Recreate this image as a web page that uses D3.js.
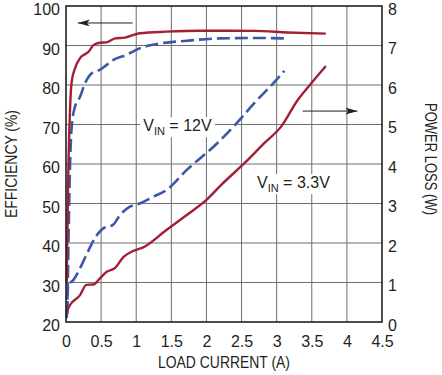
<!DOCTYPE html>
<html lang="en">
<head>
<meta charset="utf-8">
<title>Efficiency and Power Loss vs Load Current</title>
<script src="https://cdn.jsdelivr.net/npm/d3@7"></script>
<style>
  body { margin: 0; background: #fff; }
  text { font-family: "Liberation Sans Narrow", "Liberation Sans", Arial, sans-serif; fill: #231f20; }
</style>
</head>
<body>
<script>
// load current (A) / efficiency (%) / power loss (W)
var eff33 = [
  [0.01, 30], [0.03, 55], [0.057, 73.7], [0.081, 80.8], [0.128, 84.2], [0.2, 86.8], [0.27, 87.8],
  [0.32, 88.4], [0.39, 90.1], [0.48, 90.7], [0.58, 90.8], [0.7, 91.8], [0.84, 92.0],
  [1.05, 93.1], [1.43, 93.5], [1.91, 93.75], [2.21, 93.75], [2.68, 93.7], [3.16, 93.3], [3.7, 93.0]
];
var eff12 = [
  [0.02, 22], [0.04, 45], [0.057, 59.3], [0.081, 69.4], [0.128, 74.5], [0.2, 77], [0.27, 80.4],
  [0.366, 83], [0.48, 83.8], [0.58, 85.1], [0.67, 86.3], [0.86, 87.6], [1.05, 89.3],
  [1.34, 90.5], [1.72, 91.2], [2.19, 91.8], [2.68, 91.9], [3.11, 91.8]
];
var loss12 = [
  [0.01, 0.1], [0.033, 0.94], [0.104, 1.06], [0.2, 1.36], [0.29, 1.7], [0.44, 2.2], [0.53, 2.37],
  [0.67, 2.46], [0.77, 2.71], [0.91, 2.92], [1.05, 3.0], [1.24, 3.17], [1.43, 3.34],
  [1.72, 3.85], [2.15, 4.52], [2.45, 5.07], [2.68, 5.54], [2.97, 6.08], [3.11, 6.36]
];
var loss33 = [
  [0.01, 0.26], [0.057, 0.43], [0.2, 0.68], [0.29, 0.94], [0.39, 0.95], [0.48, 1.1], [0.58, 1.27],
  [0.7, 1.37], [0.82, 1.65], [0.96, 1.8], [1.1, 1.89], [1.43, 2.33], [1.72, 2.71],
  [2.0, 3.09], [2.21, 3.47], [2.54, 4.02], [2.82, 4.52], [3.06, 4.94], [3.3, 5.62],
  [3.49, 6.04], [3.7, 6.48]
];
var xTicks = [0, 0.5, 1, 1.5, 2, 2.5, 3, 3.5, 4, 4.5];
var effTicks = [20, 30, 40, 50, 60, 70, 80, 90, 100];
var lossTicks = [0, 1, 2, 3, 4, 5, 6, 7, 8];

var w = 442, h = 375;
var margin = {top: 6, right: 60, bottom: 53, left: 66};
var red = "#a31f34", blue = "#3b58a8";

var svg = d3.select("body").append("svg")
  .attr("width", w)
  .attr("height", h);

var iw = w - margin.left - margin.right;
var ih = h - margin.top - margin.bottom;

var x = d3.scaleLinear().domain([0, 4.5]).range([0, iw]);
var yEff = d3.scaleLinear().domain([20, 100]).range([ih, 0]);
var yLoss = d3.scaleLinear().domain([0, 8]).range([ih, 0]);

var g = svg.append("g")
  .attr("transform", "translate(" + margin.left + "," + margin.top + ")");

// grid
g.selectAll(".vgrid").data(xTicks.slice(1, -1)).enter().append("line")
  .attr("x1", function(d) { return x(d); }).attr("x2", function(d) { return x(d); })
  .attr("y1", 0).attr("y2", ih)
  .attr("stroke", "#6d6e71").attr("stroke-width", 1);
g.selectAll(".hgrid").data(effTicks.slice(1, -1)).enter().append("line")
  .attr("x1", 0).attr("x2", iw)
  .attr("y1", function(d) { return yEff(d); }).attr("y2", function(d) { return yEff(d); })
  .attr("stroke", "#6d6e71").attr("stroke-width", 1);

// axes (tick labels only, the frame is drawn separately)
function styleAxis(sel) {
  sel.select(".domain").remove();
  sel.selectAll(".tick line").remove();
  sel.selectAll("text").style("font-size", "16px").attr("fill", "#231f20");
}
g.append("g").attr("transform", "translate(0," + ih + ")")
  .call(d3.axisBottom(x).tickValues(xTicks).tickFormat(d3.format("")).tickPadding(8))
  .call(styleAxis);
g.append("g")
  .call(d3.axisLeft(yEff).tickValues(effTicks).tickPadding(0))
  .call(styleAxis)
  .selectAll("text").attr("dy", "0.55em");
g.append("g").attr("transform", "translate(" + iw + ",0)")
  .call(d3.axisRight(yLoss).tickValues(lossTicks).tickPadding(0))
  .call(styleAxis)
  .selectAll("text").attr("dy", "0.5em");

// V_IN labels with white boxes
function vinLabel(px, py, val) {
  var lg = g.append("g");
  var t = lg.append("text").attr("x", px).attr("y", py).style("font-size", "16px");
  t.append("tspan").text("V");
  t.append("tspan").attr("dy", 4).style("font-size", "11px").text("IN");
  t.append("tspan").attr("dy", -4).text(" = " + val);
  var bb = t.node().getBBox();
  lg.insert("rect", "text")
    .attr("x", bb.x - 3).attr("y", bb.y)
    .attr("width", bb.width + 6).attr("height", bb.height)
    .attr("fill", "#fff");
}
vinLabel(x(1.1), yEff(68.3), "12V");
vinLabel(x(2.72), yEff(53.9), "3.3V");

// arrows
svg.append("defs").append("marker")
  .attr("id", "ah").attr("viewBox", "0 0 12 7").attr("refX", 12).attr("refY", 3.5)
  .attr("markerWidth", 12).attr("markerHeight", 7).attr("markerUnits", "userSpaceOnUse")
  .attr("orient", "auto")
  .append("path").attr("d", "M0,0 L12,3.5 L0,7 L3,3.5 z").attr("fill", "#231f20");
g.append("line")
  .attr("x1", x(0.95)).attr("y1", yEff(95.7))
  .attr("x2", x(0.17)).attr("y2", yEff(95.7))
  .attr("stroke", "#231f20").attr("stroke-width", 1).attr("marker-end", "url(#ah)");
g.append("line")
  .attr("x1", x(3.37)).attr("y1", yLoss(5.34))
  .attr("x2", x(4.15)).attr("y2", yLoss(5.34))
  .attr("stroke", "#231f20").attr("stroke-width", 1).attr("marker-end", "url(#ah)");

// curves
var lineEff = d3.line().curve(d3.curveMonotoneX)
  .x(function(d) { return x(d[0]); }).y(function(d) { return yEff(d[1]); });
var lineLoss = d3.line().curve(d3.curveMonotoneX)
  .x(function(d) { return x(d[0]); }).y(function(d) { return yLoss(d[1]); });

g.append("path").datum(eff12).attr("d", lineEff)
  .attr("fill", "none").attr("stroke", blue).attr("stroke-width", 2.6).attr("stroke-dasharray", "13,5");
g.append("path").datum(loss12).attr("d", lineLoss)
  .attr("fill", "none").attr("stroke", blue).attr("stroke-width", 2.6).attr("stroke-dasharray", "13,5");
g.append("path").datum(eff33).attr("d", lineEff)
  .attr("fill", "none").attr("stroke", red).attr("stroke-width", 2.4);
g.append("path").datum(loss33).attr("d", lineLoss)
  .attr("fill", "none").attr("stroke", red).attr("stroke-width", 2.4);

// frame
g.append("rect").attr("x", 0).attr("y", 0).attr("width", iw).attr("height", ih)
  .attr("fill", "none").attr("stroke", "#231f20").attr("stroke-width", 1.6);

// axis titles
svg.append("text")
  .attr("text-anchor", "middle")
  .attr("transform", "translate(17,164)rotate(-90)")
  .style("font-size", "17px")
  .attr("textLength", 108).attr("lengthAdjust", "spacingAndGlyphs")
  .text("EFFICIENCY (%)");
svg.append("text")
  .attr("text-anchor", "middle")
  .attr("transform", "translate(425,159)rotate(90)")
  .style("font-size", "17px")
  .attr("textLength", 112).attr("lengthAdjust", "spacingAndGlyphs")
  .text("POWER LOSS (W)");
svg.append("text")
  .attr("text-anchor", "middle")
  .attr("x", 224).attr("y", 368)
  .style("font-size", "17px")
  .attr("textLength", 132).attr("lengthAdjust", "spacingAndGlyphs")
  .text("LOAD CURRENT (A)");
</script>
</body>
</html>
